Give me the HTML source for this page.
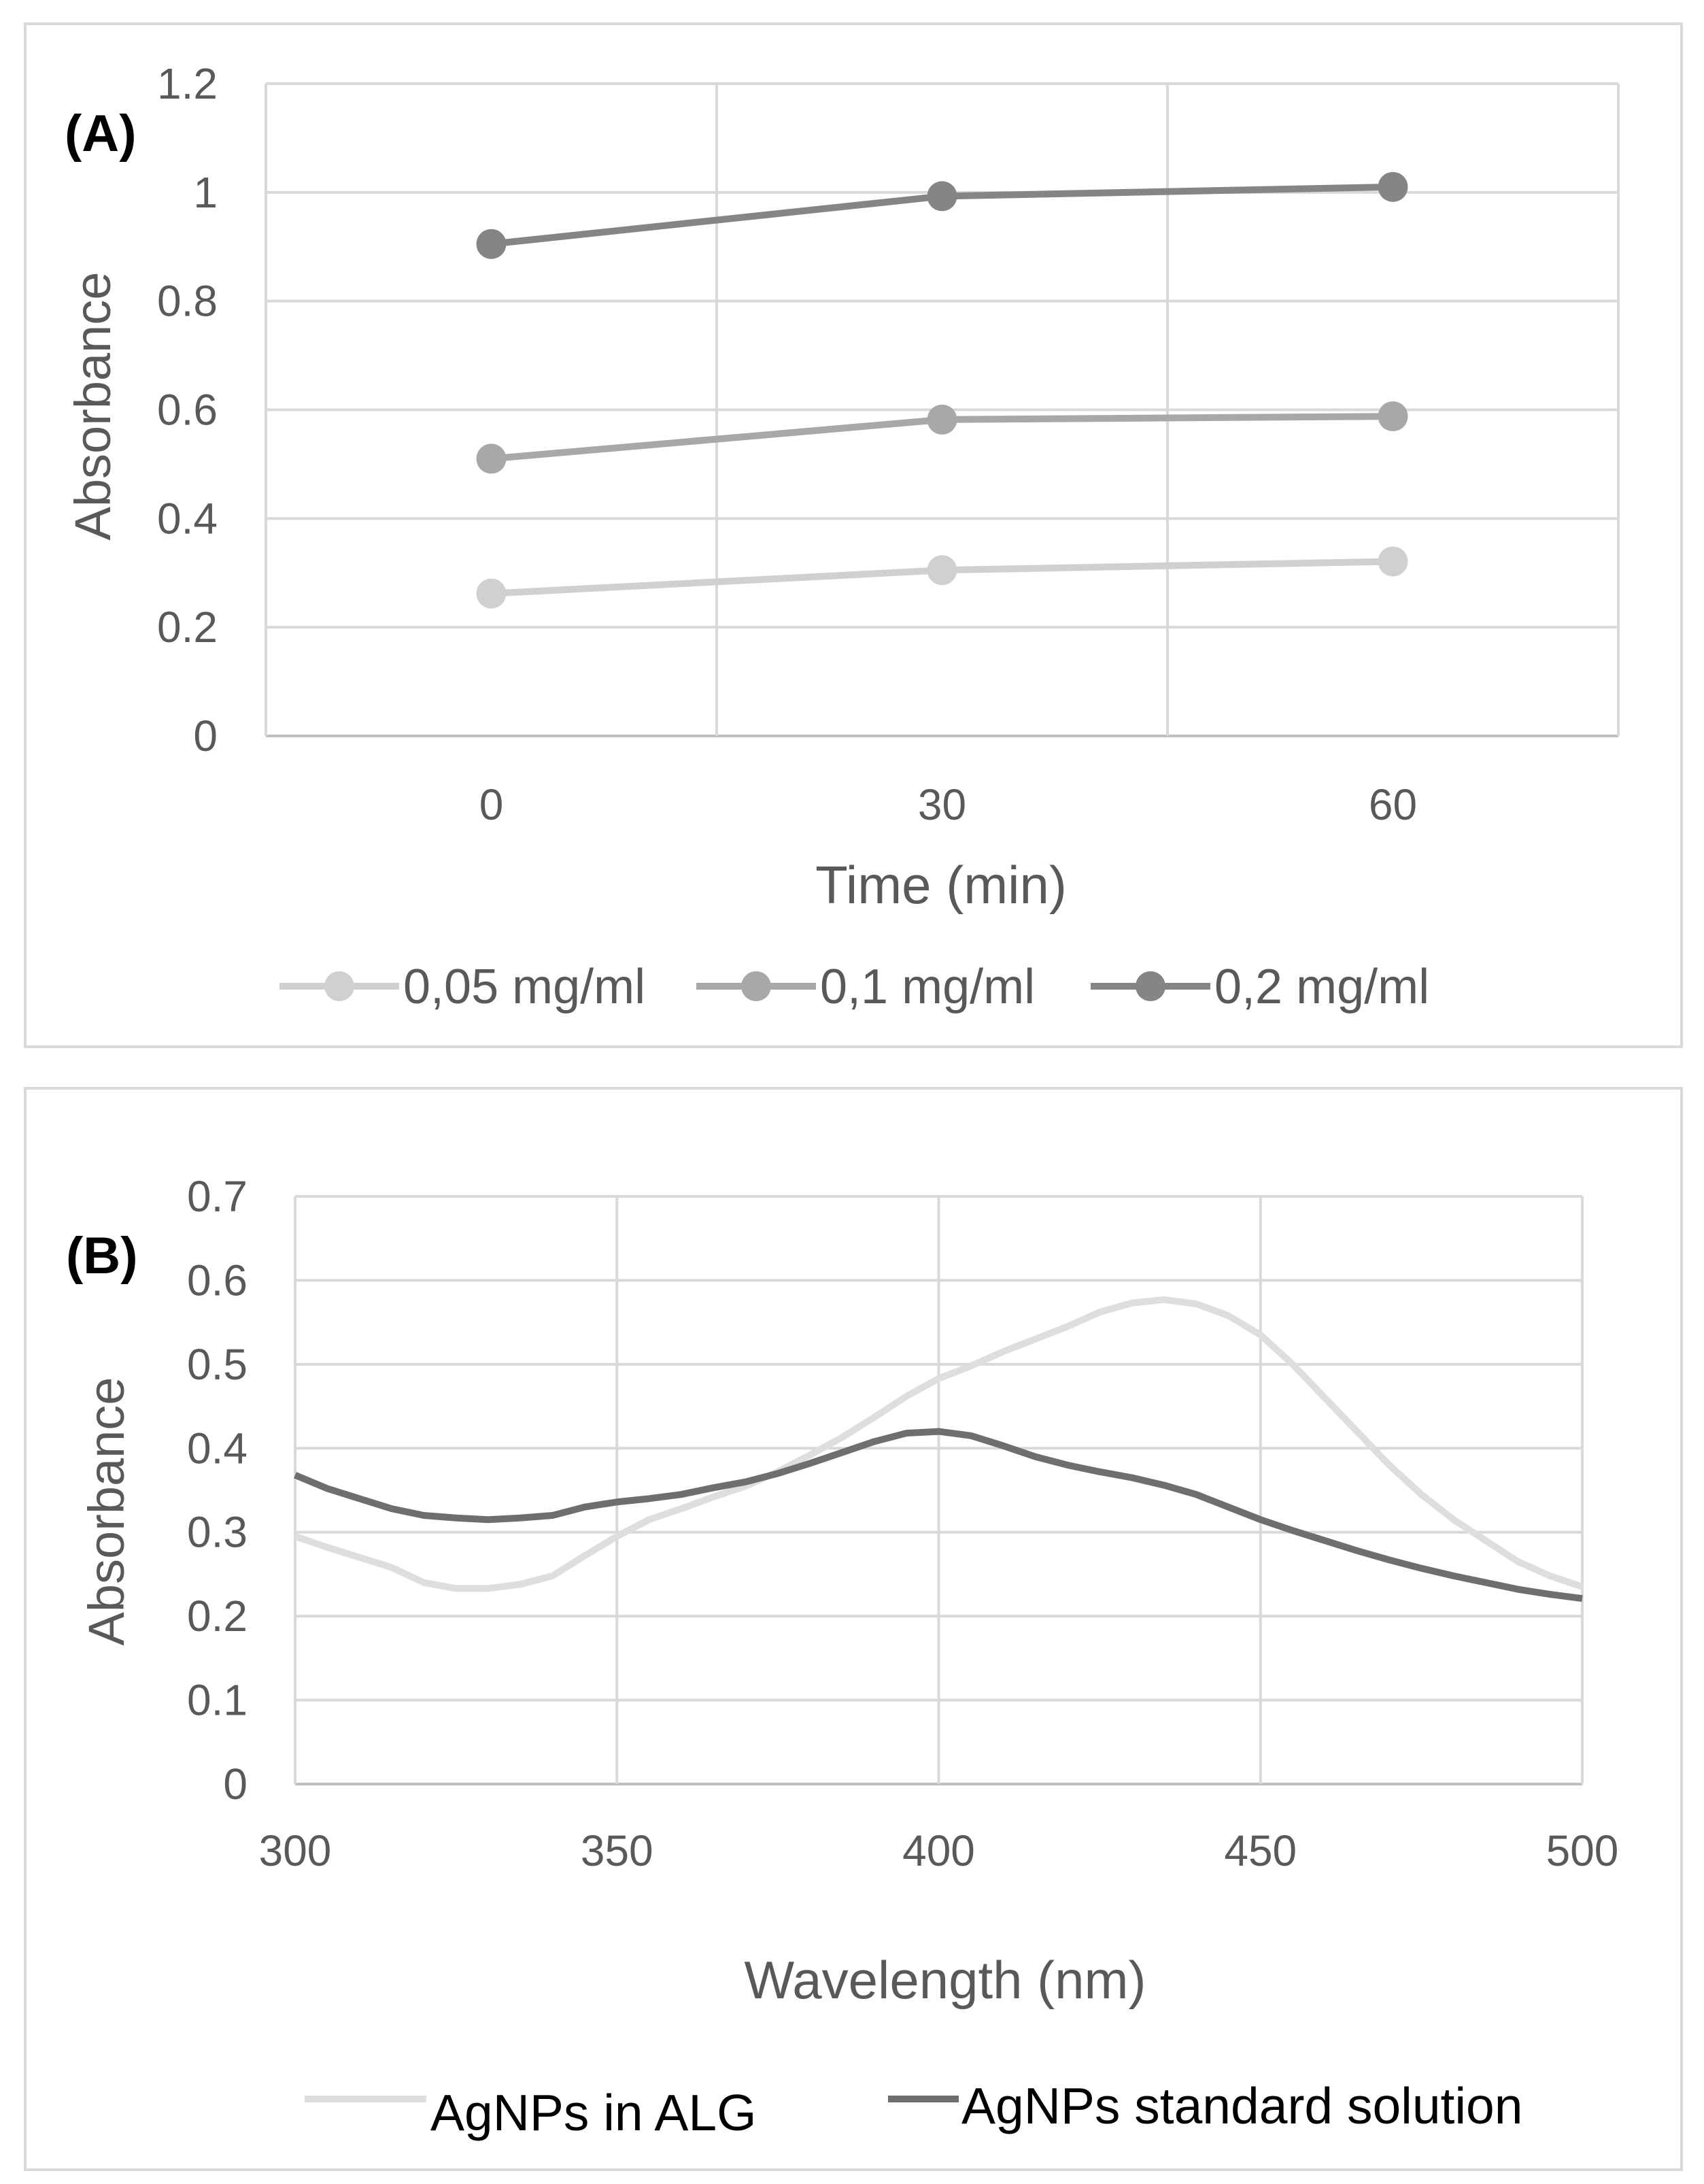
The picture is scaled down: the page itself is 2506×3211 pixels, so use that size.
<!DOCTYPE html>
<html><head><meta charset="utf-8">
<style>
html,body{margin:0;padding:0;background:#fff;}
svg{display:block;font-family:"Liberation Sans",sans-serif;}
</style></head>
<body>
<svg id="fig" width="2506" height="3211" viewBox="0 0 2506 3211" xmlns="http://www.w3.org/2000/svg">
<rect x="0" y="0" width="2506" height="3211" fill="#fff"/>
<g id="chartA"></g>
<g id="chartB"></g>
</svg>
<script>
// ---- Chart A data ----
const catsA = [0, 30, 60];
const s005 = [0.262, 0.305, 0.321];
const s01 = [0.51, 0.582, 0.588];
const s02 = [0.905, 0.993, 1.01];
const yTicksA = [0, 0.2, 0.4, 0.6, 0.8, 1, 1.2];
const yTickLabelsA = ["0", "0.2", "0.4", "0.6", "0.8", "1", "1.2"];
const legendA = ["0,05 mg/ml", "0,1 mg/ml", "0,2 mg/ml"];

// ---- Chart B data ----
const wl = [300,305,310,315,320,325,330,335,340,345,350,355,360,365,370,375,380,385,390,395,400,405,410,415,420,425,430,435,440,445,450,455,460,465,470,475,480,485,490,495,500];
const alg = [0.295,0.282,0.27,0.258,0.24,0.233,0.233,0.238,0.248,0.272,0.295,0.315,0.328,0.342,0.355,0.372,0.392,0.413,0.437,0.462,0.483,0.498,0.515,0.53,0.545,0.562,0.573,0.577,0.572,0.558,0.535,0.5,0.46,0.42,0.38,0.345,0.315,0.29,0.265,0.248,0.235];
const std = [0.368,0.352,0.34,0.328,0.32,0.317,0.315,0.317,0.32,0.33,0.336,0.34,0.345,0.353,0.36,0.37,0.382,0.395,0.408,0.418,0.42,0.415,0.403,0.39,0.38,0.372,0.365,0.356,0.345,0.33,0.315,0.302,0.29,0.278,0.267,0.257,0.248,0.24,0.232,0.226,0.221];
const yTicksB = [0,0.1,0.2,0.3,0.4,0.5,0.6,0.7];
const xTicksB = [300,350,400,450,500];
const legendB = ["AgNPs in ALG", "AgNPs standard solution"];

const NS = "http://www.w3.org/2000/svg";
function mk(parent, tag, attrs, text){
  const e = document.createElementNS(NS, tag);
  for (const k in attrs) e.setAttribute(k, attrs[k]);
  if (text !== undefined) e.textContent = text;
  parent.appendChild(e);
  return e;
}
const TXT = "#595959", GRID = "#d9d9d9";

// ---------- Chart A ----------
(function(){
  const g = document.getElementById('chartA');
  const L = 391, R = 2380, T = 123, B = 1082;
  const yA = v => B - (v / 1.2) * (B - T);
  const bw = (R - L) / catsA.length;
  const xA = i => L + bw * (i + 0.5);
  const fr = mk(g, 'rect', {x:37, y:35, width:2436, height:1504, fill:'none', stroke:GRID, 'stroke-width':4});
  
  
  yTicksA.forEach((v, i) => {
    const ln = mk(g, 'line', {x1:L, x2:R, y1:yA(v), y2:yA(v), stroke: v===0 ? '#bfbfbf' : GRID, 'stroke-width':4});
    
    
    const t = mk(g, 'text', {x:320, y:yA(v)+22, 'text-anchor':'end', 'font-size':64, fill:TXT}, yTickLabelsA[i]);
    
    
  });
  for (let i = 0; i <= catsA.length; i++) {
    const x = L + bw * i;
    const ln = mk(g, 'line', {x1:x, x2:x, y1:T, y2:B, stroke:GRID, 'stroke-width':4});
    
    
  }
  catsA.forEach((c, i) => {
    const t = mk(g, 'text', {x:xA(i), y:1205, 'text-anchor':'middle', 'font-size':64, fill:TXT}, String(c));
    
    
  });
  const xt = mk(g, 'text', {x:1384, y:1328, 'text-anchor':'middle', 'font-size':78, fill:TXT}, 'Time (min)');
  
  
  const yt = mk(g, 'text', {x:0, y:0, 'text-anchor':'middle', 'font-size':74, fill:TXT, transform:'translate(162,597) rotate(-90)'}, 'Absorbance');
  
  
  const lab = mk(g, 'text', {x:95, y:222, 'font-size':76, 'font-weight':'bold', fill:'#000'}, '(A)');
  
  
  const series = [s005, s01, s02];
  const cols = ['#d0d0d0', '#a8a8a8', '#858585'];
  const names = ['series-0-05', 'series-0-1', 'series-0-2'];
  series.forEach((s, k) => {
    const pts = s.map((v, i) => xA(i) + ',' + yA(v)).join(' ');
    const pl = mk(g, 'polyline', {points:pts, fill:'none', stroke:cols[k], 'stroke-width':10, 'stroke-linejoin':'round'});
    
    
    s.forEach((v, i) => {
      const c = mk(g, 'circle', {cx:xA(i), cy:yA(v), r:22, fill:cols[k]});
      
      
    });
  });
  const lx = [411, 1024, 1604];
  legendA.forEach((nm, k) => {
    const lg = mk(g, 'g', {});
    
    
    mk(lg, 'line', {x1:lx[k], x2:lx[k]+176, y1:1450, y2:1450, stroke:cols[k], 'stroke-width':10});
    mk(lg, 'circle', {cx:lx[k]+88, cy:1450, r:22, fill:cols[k]});
    mk(lg, 'text', {x:lx[k]+182, y:1475, 'font-size':72, fill:TXT}, nm);
  });
})();

// ---------- Chart B ----------
(function(){
  const g = document.getElementById('chartB');
  const L = 434, R = 2327, T = 1759, B = 2623;
  const yB = v => B - (v / 0.7) * (B - T);
  const xB = v => L + (v - 300) / 200 * (R - L);
  const fr = mk(g, 'rect', {x:37, y:1600, width:2436, height:1590, fill:'none', stroke:GRID, 'stroke-width':4});
  
  
  yTicksB.forEach(v => {
    const ln = mk(g, 'line', {x1:L, x2:R, y1:yB(v), y2:yB(v), stroke: v===0 ? '#bfbfbf' : GRID, 'stroke-width':4});
    
    
    const t = mk(g, 'text', {x:364, y:yB(v)+22, 'text-anchor':'end', 'font-size':64, fill:TXT}, v === 0 ? '0' : v.toFixed(1));
    
    
  });
  xTicksB.forEach(v => {
    const ln = mk(g, 'line', {x1:xB(v), x2:xB(v), y1:T, y2:B, stroke:GRID, 'stroke-width':4});
    
    
    const t = mk(g, 'text', {x:xB(v), y:2743, 'text-anchor':'middle', 'font-size':64, fill:TXT}, String(v));
    
    
  });
  const xt = mk(g, 'text', {x:1390, y:2938, 'text-anchor':'middle', 'font-size':78, fill:TXT}, 'Wavelength (nm)');
  
  
  const yt = mk(g, 'text', {x:0, y:0, 'text-anchor':'middle', 'font-size':74, fill:TXT, transform:'translate(182,2222) rotate(-90)'}, 'Absorbance');
  
  
  const lab = mk(g, 'text', {x:97, y:1872, 'font-size':76, 'font-weight':'bold', fill:'#000'}, '(B)');
  
  
  const p1 = mk(g, 'polyline', {points: wl.map((w,i)=>xB(w)+','+yB(alg[i])).join(' '), fill:'none', stroke:'#dedede', 'stroke-width':10, 'stroke-linejoin':'round'});
  
  
  const p2 = mk(g, 'polyline', {points: wl.map((w,i)=>xB(w)+','+yB(std[i])).join(' '), fill:'none', stroke:'#6e6e6e', 'stroke-width':10, 'stroke-linejoin':'round'});
  
  
  const l1 = mk(g, 'g', {});
  
  
  mk(l1, 'line', {x1:448, x2:627, y1:3086, y2:3086, stroke:'#dedede', 'stroke-width':10});
  mk(l1, 'text', {x:633, y:3132, 'font-size':75, fill:'#000'}, legendB[0]);
  const l2 = mk(g, 'g', {});
  
  
  mk(l2, 'line', {x1:1306, x2:1410, y1:3086, y2:3086, stroke:'#6e6e6e', 'stroke-width':10});
  mk(l2, 'text', {x:1414, y:3122, 'font-size':75, fill:'#000'}, legendB[1]);
})();
</script>
</body></html>
